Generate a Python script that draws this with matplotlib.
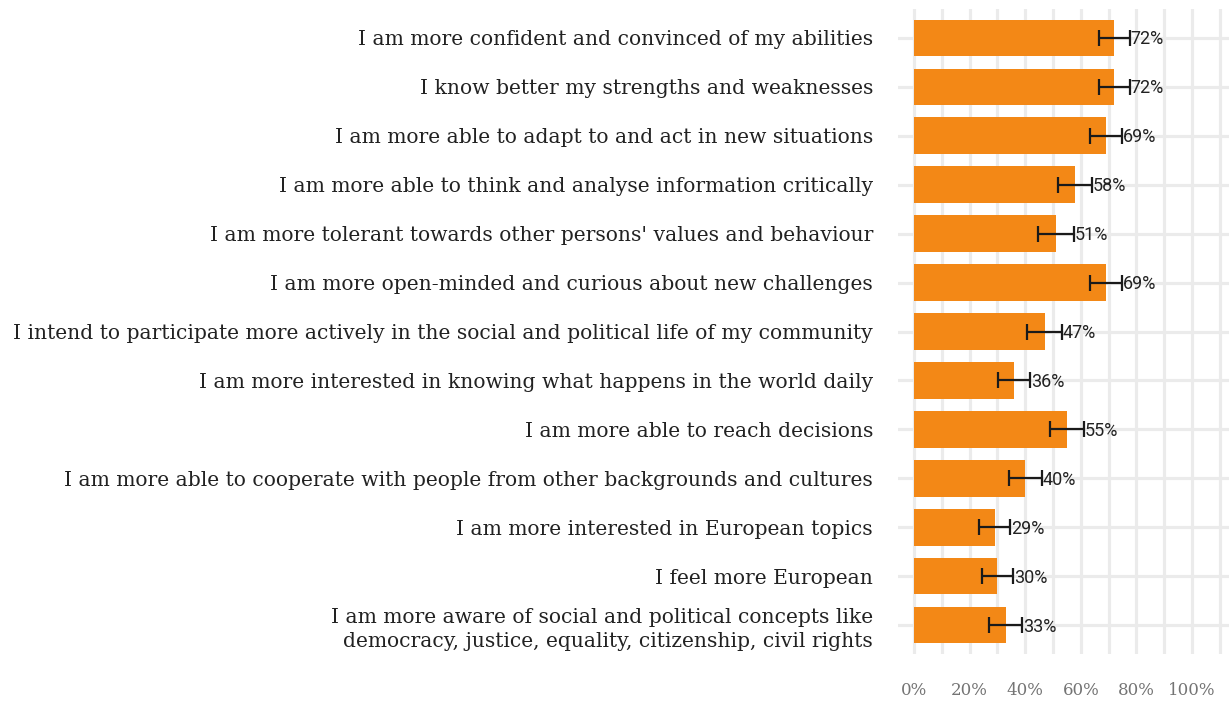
import matplotlib
matplotlib.use("Agg")
import matplotlib.pyplot as plt
import numpy as np

categories = [
    "I am more confident and convinced of my abilities",
    "I know better my strengths and weaknesses",
    "I am more able to adapt to and act in new situations",
    "I am more able to think and analyse information critically",
    "I am more tolerant towards other persons' values and behaviour",
    "I am more open-minded and curious about new challenges",
    "I intend to participate more actively in the social and political life of my community",
    "I am more interested in knowing what happens in the world daily",
    "I am more able to reach decisions",
    "I am more able to cooperate with people from other backgrounds and cultures",
    "I am more interested in European topics",
    "I feel more European",
    "I am more aware of social and political concepts like\ndemocracy, justice, equality, citizenship, civil rights",
]
values = [72, 72, 69, 58, 51, 69, 47, 36, 55, 40, 29, 30, 33]
errors = [5.6, 5.6, 5.8, 6.1, 6.4, 5.8, 6.3, 5.9, 6.1, 5.9, 5.5, 5.7, 5.9]
xticks = [0, 20, 40, 60, 80, 100]
xtick_labels = ["0%", "20%", "40%", "60%", "80%", "100%"]

W, H = 1229, 702
fig = plt.figure(figsize=(W / 100, H / 100), dpi=100)
left, right = 898 / W, 1.0
top_px, bot_px = 8.6, 654.4
ax = fig.add_axes([left, 1 - bot_px / H, right - left, (bot_px - top_px) / H])

y = np.arange(len(categories))
ax.barh(y, values, height=0.75, color="#F38816", zorder=3)
ax.errorbar(values, y, xerr=errors, fmt="none", ecolor="#1a1a1a",
            elinewidth=1.6, capsize=6, capthick=1.6, zorder=4)
for yi, v, e in zip(y, values, errors):
    ax.text(v + e + 0.3, yi + 0.03, f"{v}%", va="center", ha="left",
            fontsize=13, family="Roboto", color="#222222", zorder=5)

ax.set_xlim(-5.75, 113.3)
ax.set_ylim(len(categories) - 0.4, -0.6)
ax.set_xticks(xticks)
ax.set_xticklabels(xtick_labels, family="DejaVu Serif", fontsize=12, color="#747474")
ax.set_xticks(np.arange(10, 120, 20), minor=True)
ax.set_yticks(y)
ax.set_yticklabels(categories, family="DejaVu Serif", fontsize=14.6, color="#222222",
                   linespacing=1.3)
ax.tick_params(axis="both", which="both", length=0)
ax.tick_params(axis="y", pad=18)
ax.tick_params(axis="x", pad=20)
ax.grid(True, which="both", axis="x", color="#ebebeb", linewidth=2.3, zorder=0)
ax.grid(True, which="major", axis="y", color="#ebebeb", linewidth=2.3, zorder=0)
ax.set_axisbelow(True)
for s in ax.spines.values():
    s.set_visible(False)

fig.savefig("out.png", dpi=100)
